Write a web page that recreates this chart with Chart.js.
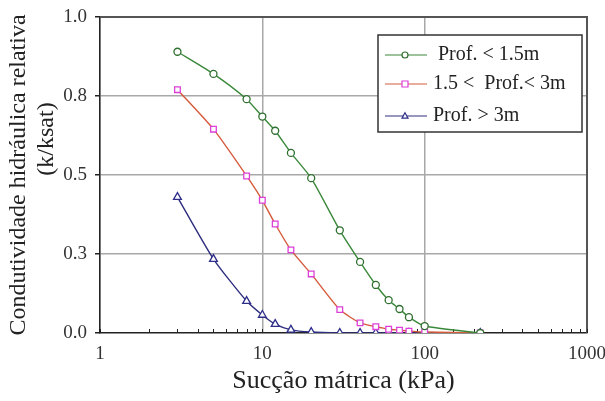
<!DOCTYPE html>
<html>
<head>
<meta charset="utf-8">
<script src="https://cdn.jsdelivr.net/npm/chart.js@4/dist/chart.umd.min.js"></script>
<style>
  html, body { margin: 0; padding: 0; background: #fff; }
  #wrap { width: 605px; height: 401px; }
</style>
</head>
<body>
<div id="wrap"><canvas id="grafico"></canvas></div>
<script>
// Sucção (kPa) comum às três profundidades
const succao = [3, 5, 8, 10, 12, 15, 20, 30, 40, 50, 60, 70, 80, 100, 220];

const profRasa = [0.89, 0.82, 0.74, 0.685, 0.64, 0.57, 0.49, 0.325, 0.225, 0.152, 0.104, 0.076, 0.05, 0.022, 0.0];
const profMedia = [0.77, 0.645, 0.497, 0.42, 0.345, 0.263, 0.187, 0.074, 0.032, 0.02, 0.012, 0.009, 0.006, 0.003, 0.0];
const profFunda = [0.43, 0.234, 0.101, 0.057, 0.028, 0.01, 0.003, 0, 0, 0, 0, 0, 0, 0, 0];

const rotulos = [' Prof. < 1.5m', '1.5 <  Prof.< 3m', 'Prof. > 3m'];
const ticksX = [1, 10, 100, 1000];

const FONTE = "'Liberation Serif', 'Times New Roman', serif";

function pontos(valores) {
  return succao.map((x, i) => ({ x, y: valores[i] }));
}

function ehPotencia10(v) {
  return ticksX.includes(v);
}

// Moldura superior/direita e tracinhos menores do eixo x (por dentro).
const moldura = {
  id: 'moldura',
  beforeDatasetsDraw(chart) {
    const { ctx, chartArea: a, scales } = chart;
    ctx.save();
    ctx.strokeStyle = '#555';
    ctx.lineWidth = 2;
    ctx.beginPath();
    ctx.moveTo(a.left, a.top);
    ctx.lineTo(a.right, a.top);
    ctx.lineTo(a.right, a.bottom);
    ctx.stroke();

    ctx.strokeStyle = '#222';
    ctx.lineWidth = 1;
    scales.x.ticks.forEach((t) => {
      const px = Math.round(scales.x.getPixelForValue(t.value)) + 0.5;
      ctx.beginPath();
      ctx.moveTo(px, a.bottom);
      ctx.lineTo(px, a.bottom - 4);
      ctx.stroke();
    });
    ctx.restore();
  },
};

function desenharMarcador(ctx, estilo, x, y, r) {
  ctx.beginPath();
  if (estilo === 'circle') {
    ctx.arc(x, y, r, 0, Math.PI * 2);
  } else if (estilo === 'rect') {
    ctx.rect(x - r, y - r, r * 2, r * 2);
  } else {
    ctx.moveTo(x, y - r * 1.1);
    ctx.lineTo(x + r, y + r * 0.7);
    ctx.lineTo(x - r, y + r * 0.7);
    ctx.closePath();
  }
  ctx.fill();
  ctx.stroke();
}

// Legenda dentro da área do gráfico, com caixa.
const legendaCaixa = {
  id: 'legendaCaixa',
  afterDraw(chart) {
    const { ctx } = chart;
    const bx = 378, by = 35, bw = 204, bh = 97;
    ctx.save();
    ctx.fillStyle = '#fff';
    ctx.fillRect(bx, by, bw, bh);
    ctx.strokeStyle = '#333';
    ctx.lineWidth = 1.5;
    ctx.strokeRect(bx, by, bw, bh);

    const ys = [55, 84, 116];
    chart.data.datasets.forEach((ds, i) => {
      const y = ys[i];
      ctx.strokeStyle = ds.borderColor;
      ctx.lineWidth = 1.2;
      ctx.beginPath();
      ctx.moveTo(385, y);
      ctx.lineTo(427, y);
      ctx.stroke();
      ctx.fillStyle = '#fff';
      ctx.strokeStyle = ds.pointBorderColor;
      desenharMarcador(ctx, ds.pointStyle, 405, y, 3);

      ctx.fillStyle = '#222';
      ctx.font = '20px ' + FONTE;
      ctx.textBaseline = 'middle';
      ctx.fillText(ds.label, 433, y);
    });
    ctx.restore();
  },
};

function serie(label, valores, linha, marcador, estilo, raio) {
  return {
    label,
    data: pontos(valores),
    borderColor: linha,
    borderWidth: 1.4,
    pointStyle: estilo,
    pointRadius: raio,
    pointBorderColor: marcador,
    pointBackgroundColor: '#fff',
    pointBorderWidth: 1.3,
    tension: 0.2,
    fill: false,
  };
}

new Chart(document.getElementById('grafico'), {
  type: 'line',
  data: {
    datasets: [
      serie(rotulos[0], profRasa, '#3a883a', '#2e6e2e', 'circle', 3.5),
      serie(rotulos[1], profMedia, '#d55a3a', '#dd40d8', 'rect', 4),
      serie(rotulos[2], profFunda, '#2e2e7e', '#2e2e8a', 'triangle', 4.5),
    ],
  },
  options: {
    responsive: true,
    maintainAspectRatio: false,
    animation: false,
    layout: { padding: { left: 0, top: 17, right: 18, bottom: 0 } },
    plugins: {
      legend: { display: false },
      tooltip: { enabled: false },
    },
    scales: {
      x: {
        type: 'logarithmic',
        min: 1,
        max: 1000,
        afterFit(s) {
          s.height = 68;
          s.paddingLeft = 0;
          s.paddingRight = 0;
        },
        border: { color: '#222', width: 1.5 },
        grid: {
          color: (c) => (c.tick && ehPotencia10(c.tick.value) ? '#a8a8a8' : 'rgba(0,0,0,0)'),
          lineWidth: 1.5,
          drawTicks: false,
        },
        ticks: {
          autoSkip: false,
          maxRotation: 0,
          padding: 10,
          color: '#333',
          font: { family: FONTE, size: 19 },
          callback: (v) => (ehPotencia10(v) ? String(v) : ''),
        },
        title: {
          display: true,
          text: 'Sucção mátrica (kPa)',
          color: '#222',
          font: { family: FONTE, size: 26, lineHeight: 1.2 },
          padding: { top: 0, bottom: 4 },
        },
      },
      y: {
        min: 0,
        max: 1,
        afterFit(s) {
          s.width = 100;
          s.paddingTop = 0;
          s.paddingBottom = 0;
        },
        border: { color: '#222', width: 1.5 },
        grid: {
          color: (c) => (c.tick && c.tick.value > 0 && c.tick.value < 1 ? '#a8a8a8' : 'rgba(0,0,0,0)'),
          lineWidth: 1.5,
          tickColor: '#222',
          tickLength: 5,
        },
        ticks: {
          stepSize: 0.25,
          padding: 8,
          color: '#333',
          font: { family: FONTE, size: 19 },
          callback: (v) => Number(v).toFixed(1),
        },
        title: {
          display: true,
          text: ['Condutividade hidráulica relativa', '            (k/ksat)'],
          color: '#222',
          font: { family: FONTE, size: 24, lineHeight: 1.15 },
          padding: { top: 5, bottom: 0 },
        },
      },
    },
  },
  plugins: [moldura, legendaCaixa],
});
</script>
</body>
</html>
